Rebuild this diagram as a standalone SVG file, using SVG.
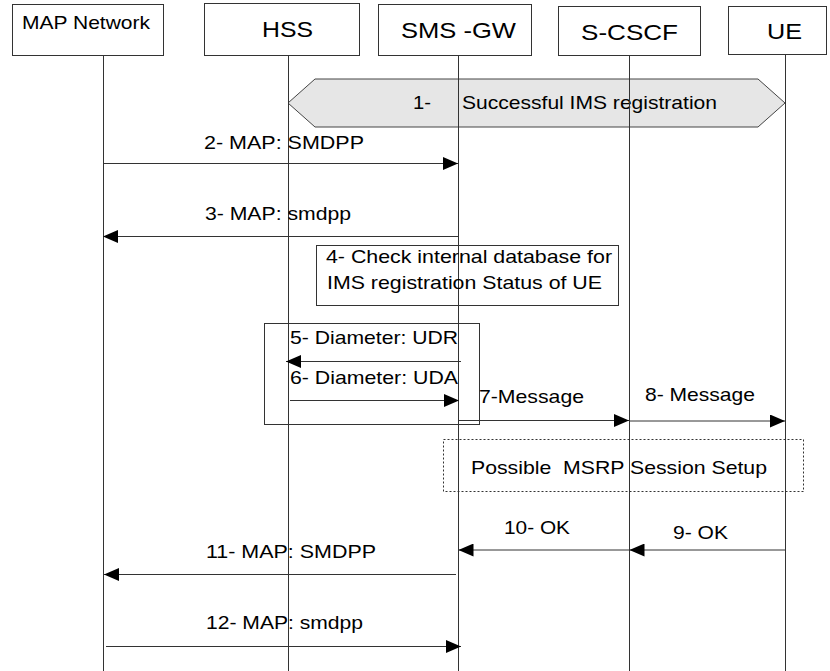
<svg xmlns="http://www.w3.org/2000/svg" width="830" height="671" viewBox="0 0 830 671">
<style>
.box{fill:#fff;stroke:#333;stroke-width:1}
.life{stroke:#333;stroke-width:1}
.note{fill:none;stroke:#333;stroke-width:1}
.dash{fill:none;stroke:#333;stroke-width:1;stroke-dasharray:2,2}
.msg{stroke:#333;stroke-width:1;fill:none;marker-end:url(#ah)}
.hd{font-family:"Liberation Sans",Arial,sans-serif;font-size:22px;fill:#000}
.t{font-family:"Liberation Sans",Arial,sans-serif;font-size:18.5px;fill:#000}
</style>
<defs>
<marker id="ah" markerWidth="15" markerHeight="13" refX="15" refY="6.5" orient="auto" markerUnits="userSpaceOnUse">
<path d="M0,0 L15,6.5 L0,13 Z" fill="#000"/>
</marker>
</defs>
<rect width="830" height="671" fill="#fff"/>
<g id="n1-registration">
<polygon points="288,103 315,79 758,79 785,103 758,127 315,127" fill="#e6e6e6" stroke="#444" stroke-width="1"/>
<text class="t" x="413" y="109" textLength="18" lengthAdjust="spacingAndGlyphs">1-</text>
<text class="t" x="462" y="109" textLength="255" lengthAdjust="spacingAndGlyphs">Successful IMS registration</text>
</g>
<g id="map-network">
<rect class="box" x="12.5" y="4.5" width="151" height="51"/>
<line class="life" x1="103.5" y1="55" x2="103.5" y2="671"/>
<text x="22" y="28.5" font-family="Liberation Sans, Arial, sans-serif" font-size="19" textLength="128" lengthAdjust="spacingAndGlyphs">MAP Network</text>
</g>
<g id="hss">
<rect class="box" x="204.5" y="3.5" width="155" height="52"/>
<line class="life" x1="288.5" y1="55" x2="288.5" y2="671"/>
<text class="hd" x="262" y="37" textLength="51" lengthAdjust="spacingAndGlyphs">HSS</text>
</g>
<g id="sms-gw">
<rect class="box" x="378.5" y="4.5" width="153" height="51"/>
<line class="life" x1="458.5" y1="55" x2="458.5" y2="671"/>
<text class="hd" x="401" y="37.5" textLength="115" lengthAdjust="spacingAndGlyphs">SMS -GW</text>
</g>
<g id="s-cscf">
<rect class="box" x="558.5" y="6.5" width="142" height="49"/>
<line class="life" x1="629.5" y1="55" x2="629.5" y2="671"/>
<text class="hd" x="581" y="39.5" textLength="97" lengthAdjust="spacingAndGlyphs">S-CSCF</text>
</g>
<g id="ue">
<rect class="box" x="728.5" y="6.5" width="98" height="48"/>
<line class="life" x1="785.5" y1="54" x2="785.5" y2="671"/>
<text class="hd" x="767" y="38.5" textLength="35" lengthAdjust="spacingAndGlyphs">UE</text>
</g>
<g id="n4-check">
<rect class="note" x="316.5" y="245.5" width="302" height="60"/>
<text class="t" x="326" y="263" textLength="286" lengthAdjust="spacingAndGlyphs">4- Check internal database for</text>
<text class="t" x="327" y="288.5" textLength="275" lengthAdjust="spacingAndGlyphs">IMS registration Status of UE</text>
</g>
<g id="diameter-frame">
<rect class="note" x="264.5" y="323.5" width="215" height="101"/>
</g>
<g id="msrp-setup">
<rect class="dash" x="443.5" y="439.5" width="360" height="52"/>
<text class="t" x="471" y="473.5" textLength="296" lengthAdjust="spacingAndGlyphs" xml:space="preserve" style="white-space:pre">Possible  MSRP Session Setup</text>
</g>
<g id="connectors">
<line class="msg" x1="103.5" y1="163.5" x2="458" y2="163.5"/>
<text class="t" x="204" y="148.5" textLength="160" lengthAdjust="spacingAndGlyphs">2- MAP: SMDPP</text>
<line class="msg" x1="458.5" y1="236.5" x2="103" y2="236.5"/>
<text class="t" x="205" y="219.5" textLength="146" lengthAdjust="spacingAndGlyphs">3- MAP: smdpp</text>
<line class="msg" x1="461" y1="361.5" x2="286" y2="361.5"/>
<text class="t" x="290" y="343.5" textLength="168" lengthAdjust="spacingAndGlyphs">5- Diameter: UDR</text>
<line class="msg" x1="290" y1="400.5" x2="459" y2="400.5"/>
<text class="t" x="290" y="383.5" textLength="168" lengthAdjust="spacingAndGlyphs">6- Diameter: UDA</text>
<line class="msg" x1="458.5" y1="420.5" x2="629" y2="420.5"/>
<text class="t" x="479" y="403" textLength="105" lengthAdjust="spacingAndGlyphs">7-Message</text>
<line class="msg" x1="629.5" y1="421" x2="785" y2="421"/>
<text class="t" x="645" y="401" textLength="110" lengthAdjust="spacingAndGlyphs">8- Message</text>
<line class="msg" x1="785.5" y1="550" x2="629.5" y2="550"/>
<text class="t" x="673" y="538.5" textLength="55" lengthAdjust="spacingAndGlyphs">9- OK</text>
<line class="msg" x1="629.5" y1="550" x2="458.5" y2="550"/>
<text class="t" x="504" y="533.5" textLength="66" lengthAdjust="spacingAndGlyphs">10- OK</text>
<line class="msg" x1="456" y1="574.5" x2="104" y2="574.5"/>
<text class="t" x="206" y="557.5" textLength="170" lengthAdjust="spacingAndGlyphs">11- MAP: SMDPP</text>
<line class="msg" x1="106" y1="646.5" x2="461" y2="646.5"/>
<text class="t" x="206" y="628.5" textLength="157" lengthAdjust="spacingAndGlyphs">12- MAP: smdpp</text>
</g>
</svg>
